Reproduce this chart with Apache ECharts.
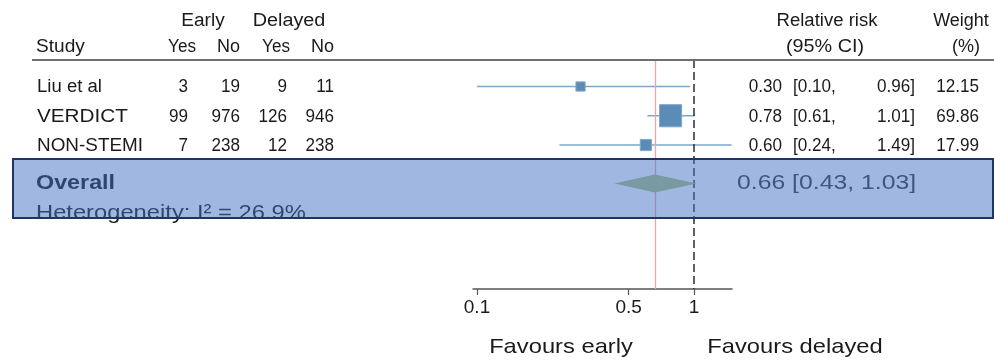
<!DOCTYPE html>
<html>
<head>
<meta charset="utf-8">
<script src="https://cdn.jsdelivr.net/npm/echarts@6/dist/echarts.min.js"></script>
<style>
  html, body { margin: 0; padding: 0; background: #fff; }
  #chart { width: 994px; height: 360px; }
</style>
</head>
<body>
<div id="chart"></div>
<script>
  // 数据
  var studies = ['Liu et al', 'VERDICT', 'NON-STEMI']
  var earlyYes = [3, 99, 7]
  var earlyNo = [19, 976, 238]
  var delayedYes = [9, 126, 12]
  var delayedNo = [11, 946, 238]
  var rr = [0.30, 0.78, 0.60]
  var ciLow = [0.10, 0.61, 0.24]
  var ciHigh = [0.96, 1.01, 1.49]
  var weight = [12.15, 69.86, 17.99]
  var overallRR = 0.66
  var overallLow = 0.43
  var overallHigh = 1.03
  var heterogeneity = 26.9
  var xTicks = [0.1, 0.5, 1]

  var font = '"Liberation Sans", Arial, Helvetica, sans-serif'
  var textColor = '#1a1a1a'
  var overallRow = 3.32
  var hetRow = 4.33

  function lg(v) { return Math.log(v) / Math.LN10 }
  function fmt(v) { return v.toFixed(2) }

  var chart = echarts.init(document.getElementById('chart'))

  var option = {
    animation: false,
    grid: { left: 473, right: 262, top: 60, bottom: 71 },
    xAxis: {
      type: 'value',
      min: -1.0184,
      max: 0.1751,
      splitLine: { show: false },
      axisLine: { show: true, onZero: false, lineStyle: { color: '#555', width: 1.5 } },
      axisTick: { show: true, length: 6, customValues: xTicks.map(lg), lineStyle: { color: '#555', width: 1.2 } },
      axisLabel: {
        customValues: xTicks.map(lg),
        margin: 9,
        fontSize: 19,
        fontFamily: font,
        color: textColor,
        formatter: function(v) {
          var r = Math.pow(10, v)
          return String(Math.round(r * 10) / 10)
        }
      }
    },
    yAxis: {
      type: 'value',
      inverse: true,
      min: -0.906,
      max: 6.923,
      show: false
    },
    series: [
      {
        // 置信区间
        type: 'custom',
        z: 3,
        data: studies.map(function(s, i) { return [lg(ciLow[i]), lg(ciHigh[i]), i] }),
        renderItem: function(params, api) {
          var a = api.coord([api.value(0), api.value(2)])
          var b = api.coord([api.value(1), api.value(2)])
          return {
            type: 'line',
            shape: { x1: a[0], y1: a[1], x2: b[0], y2: b[1] },
            style: { stroke: '#7ea8c9', lineWidth: 1.6 }
          }
        }
      },
      {
        // 方块
        type: 'scatter',
        z: 4,
        symbol: 'rect',
        data: studies.map(function(s, i) { return [lg(rr[i]), i, weight[i]] }),
        symbolSize: function(val) { return Math.sqrt(val[2]) * 2.65 },
        itemStyle: { color: '#5b8cb5', borderColor: '#80a9c9', borderWidth: 1, opacity: 1 },
        markLine: {
          silent: true,
          symbol: 'none',
          label: { show: false },
          data: [
            { xAxis: lg(overallRR), lineStyle: { color: '#f0a3aa', width: 1.3, type: 'solid' } },
            { xAxis: 0, lineStyle: { color: '#3a3a3a', width: 1.6, type: [8, 4] } }
          ]
        }
      },
      {
        // 合并效应菱形
        type: 'custom',
        z: 60,
        data: [[lg(overallLow), lg(overallRR), lg(overallHigh), overallRow]],
        renderItem: function(params, api) {
          var y = api.value(3)
          var l = api.coord([api.value(0), y])
          var c = api.coord([api.value(1), y])
          var r = api.coord([api.value(2), y])
          var h = 9
          return {
            type: 'polygon',
            shape: { points: [[l[0], l[1]], [c[0], c[1] - h], [r[0], r[1]], [c[0], c[1] + h]] },
            style: { fill: '#789aa2' }
          }
        }
      }
    ]
  }
  chart.setOption(option)

  // 表格文字
  function txt(x, y, s, align, size, opts) {
    opts = opts || {}
    return {
      type: 'text',
      x: x,
      y: y,
      z: opts.z || 10,
      scaleX: opts.scaleX || 1,
      style: {
        text: s,
        fill: opts.color || textColor,
        font: (opts.bold ? 'bold ' : '') + size + 'px ' + font,
        textAlign: align,
        textVerticalAlign: 'middle'
      }
    }
  }
  function rowY(i) { return chart.convertToPixel({ gridIndex: 0 }, [0, i])[1] }

  var num = { scaleX: 0.95 }
  var nameScale = [1.03, 1.15, 1.05]
  var g = []
  g.push(txt(203, 21, 'Early', 'center', 18, { scaleX: 1.06 }))
  g.push(txt(289, 21, 'Delayed', 'center', 18, { scaleX: 1.1 }))
  g.push(txt(36, 47, 'Study', 'left', 18, { scaleX: 1.06 }))
  g.push(txt(196, 47, 'Yes', 'right', 18, { scaleX: 0.95 }))
  g.push(txt(240, 47, 'No', 'right', 18))
  g.push(txt(290, 47, 'Yes', 'right', 18, { scaleX: 0.95 }))
  g.push(txt(334, 47, 'No', 'right', 18))
  g.push(txt(827, 21, 'Relative risk', 'center', 18, { scaleX: 1.03 }))
  g.push(txt(825, 47, '(95% CI)', 'center', 18, { scaleX: 1.1 }))
  g.push(txt(961, 21, 'Weight', 'center', 18))
  g.push(txt(966, 47, '(%)', 'center', 18))
  g.push({
    type: 'line', z: 10,
    shape: { x1: 32, y1: 60, x2: 994, y2: 60 },
    style: { stroke: '#707070', lineWidth: 2 }
  })
  studies.forEach(function(s, i) {
    var y = rowY(i) + 1
    g.push(txt(37, y, s, 'left', 18, { scaleX: nameScale[i] }))
    g.push(txt(188, y, String(earlyYes[i]), 'right', 18, num))
    g.push(txt(240, y, String(earlyNo[i]), 'right', 18, num))
    g.push(txt(287, y, String(delayedYes[i]), 'right', 18, num))
    g.push(txt(334, y, String(delayedNo[i]), 'right', 18, num))
    g.push(txt(782, y, fmt(rr[i]), 'right', 18, num))
    g.push(txt(793, y, '[' + fmt(ciLow[i]) + ',', 'left', 18, num))
    g.push(txt(915, y, fmt(ciHigh[i]) + ']', 'right', 18, num))
    g.push(txt(979, y, fmt(weight[i]), 'right', 18, num))
  })
  var oy = rowY(overallRow)
  g.push(txt(36, oy, 'Overall', 'left', 21, { bold: true, scaleX: 1.11 }))
  g.push(txt(36, rowY(hetRow), 'Heterogeneity: I\u00b2 = ' + heterogeneity.toFixed(1) + '%', 'left', 21, { scaleX: 1.13 }))
  g.push(txt(737, oy, fmt(overallRR) + ' [' + fmt(overallLow) + ', ' + fmt(overallHigh) + ']', 'left', 21, { color: '#3a3a3e', scaleX: 1.18 }))
  // 半透明汇总框
  g.push({
    type: 'rect', z: 50,
    shape: { x: 13, y: 159, width: 980, height: 59 },
    style: { fill: 'rgba(66, 114, 196, 0.5)', stroke: '#1d3562', lineWidth: 2 }
  })
  g.push(txt(561, 347, 'Favours early', 'center', 21, { scaleX: 1.13 }))
  g.push(txt(795, 347, 'Favours delayed', 'center', 21, { scaleX: 1.13 }))

  chart.setOption({ graphic: { elements: g } })
</script>
</body>
</html>
